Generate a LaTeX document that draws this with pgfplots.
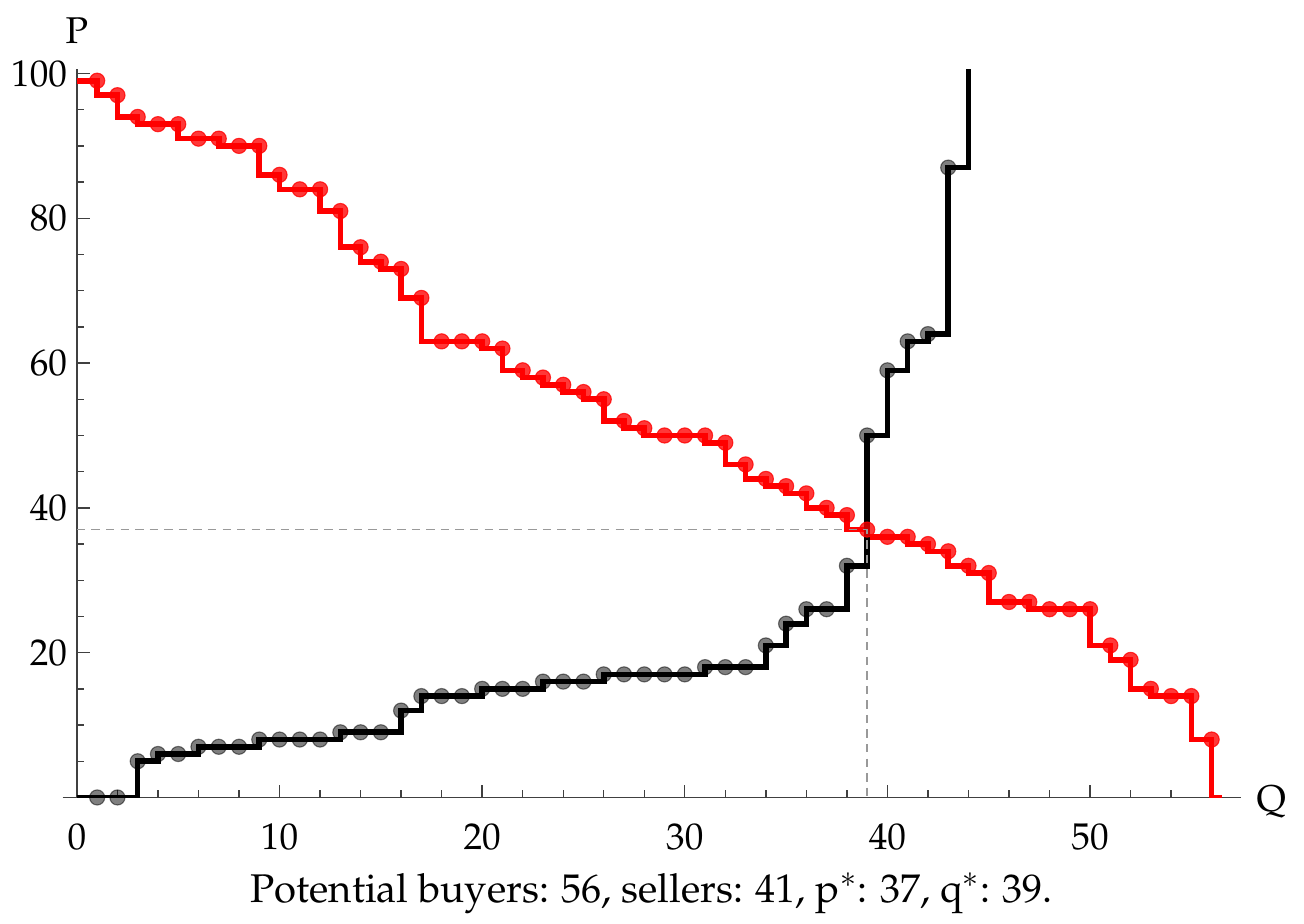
\documentclass[border=0pt]{standalone}
\usepackage[T1]{fontenc}
\usepackage{mathpazo}
\usepackage{pgfplots}
\pgfplotsset{compat=1.18}

% demand: price of the i-th buyer (line held on [i-1,i])
\pgfplotstableread{
x y
0 99
1 99
2 97
3 94
4 93
5 93
6 91
7 91
8 90
9 90
10 86
11 84
12 84
13 81
14 76
15 74
16 73
17 69
18 63
19 63
20 63
21 62
22 59
23 58
24 57
25 56
26 55
27 52
28 51
29 50
30 50
31 50
32 49
33 46
34 44
35 43
36 42
37 40
38 39
39 37
40 36
41 36
42 35
43 34
44 32
45 31
46 27
47 27
48 26
49 26
50 26
51 21
52 19
53 15
54 14
55 14
56 8
56 0
56.5 0
}\demand

% supply: cost of the i-th seller (line held on [i,i+1])
\pgfplotstableread{
x y
0 0
1 0
2 0
3 5
4 6
5 6
6 7
7 7
8 7
9 8
10 8
11 8
12 8
13 9
14 9
15 9
16 12
17 14
18 14
19 14
20 15
21 15
22 15
23 16
24 16
25 16
26 17
27 17
28 17
29 17
30 17
31 18
32 18
33 18
34 21
35 24
36 26
37 26
38 32
39 50
40 59
41 63
42 64
43 87
44 130
}\supply

\begin{document}
\begin{tikzpicture}
\begin{axis}[
  scale only axis, width=420.8pt, height=260.1pt,
  axis lines=middle,
  axis line style={-, black!75, line width=0.6pt},
  xmin=-0.7, xmax=57.45, ymin=0, ymax=100.6,
  xtick={0,10,...,50}, ytick={20,40,...,100},
  minor xtick={2,4,6,8,12,14,16,18,22,24,26,28,32,34,36,38,42,44,46,48,52,54,56},
  minor ytick={5,10,15,25,30,35,45,50,55,65,70,75,85,90,95},
  tick align=inside,
  major tick length=4.6pt, minor tick length=2.7pt,
  tick style={black!75, line width=0.5pt},
  hide obscured x ticks=false, hide obscured y ticks=false,
  font=\fontsize{13.3}{16}\selectfont,
  x tick label style={anchor=base, yshift=-18.5pt},
  xlabel={Q}, ylabel={P},
  every axis x label/.style={at={(rel axis cs:1,0)}, anchor=west, xshift=2pt, yshift=-1.5pt},
  every axis y label/.style={at={(axis cs:0,100.6)}, anchor=base, yshift=9.3pt},
  clip mode=individual,
]
\addplot[red, line width=2pt, const plot mark right] table {\demand};
\addplot[black, line width=2pt, const plot mark left] table {\supply};
\addplot[only marks, mark=*, mark size=2.7pt, red, opacity=0.78,
  restrict x to domain=0.5:56.2, restrict y to domain=1:200] table {\demand};
\addplot[only marks, mark=*, mark size=2.7pt, black, opacity=0.5,
  restrict x to domain=0.5:43.5] table {\supply};
\addplot[gray!80, line width=0.6pt, dash pattern=on 3pt off 2.2pt] coordinates {(0,37) (39,37) (39,0)};
\node[anchor=base, font=\fontsize{14.3}{17}\selectfont] at (rel axis cs:0.5,0) [yshift=-37.5pt] {Potential buyers: 56, sellers: 41, p$^{*}$: 37, q$^{*}$: 39.};
\path ([shift={(-22.4pt,-41.25pt)}]rel axis cs:0,0) rectangle ([shift={(22.5pt,24.7pt)}]rel axis cs:1,1);
\end{axis}
\end{tikzpicture}
\end{document}
